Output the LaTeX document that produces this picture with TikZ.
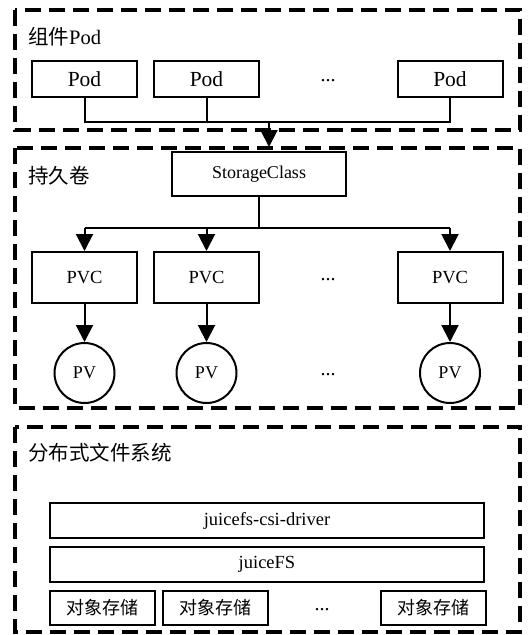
\documentclass[tikz,border=0pt]{standalone}
\usepackage{fontspec}
\setmainfont{Liberation Serif}
\newfontfamily\cjk{Noto Sans CJK SC}
\usetikzlibrary{arrows.meta}

\begin{document}
\begin{tikzpicture}[x=1pt,y=-1pt,
  group/.style={draw, line width=3.2pt, dash pattern=on 16pt off 8pt},
  box/.style={draw, line width=2pt, inner sep=0pt, minimum width=105pt},
  pv/.style={draw, circle, line width=2pt, inner sep=0pt, minimum size=60pt, font=\fontsize{18}{18}\selectfont},
  wire/.style={line width=2pt},
  arr/.style={line width=2pt, -{Triangle[length=17pt,width=17pt]}},
  grouplabel/.style={anchor=west, inner sep=0pt, font=\fontsize{20.5}{20.5}\selectfont},
  dots/.style={inner sep=0pt, font=\fontsize{20}{20}\selectfont}
]
\useasboundingbox (0,0) rectangle (532,635);

% three layers
\draw[group] (15,10) rectangle (520,130);
\draw[group] (15,148) rectangle (520,408);
\draw[group] (15,427) rectangle (520,632);

\node[grouplabel] (l1) at (28,37) {{\cjk 组件}Pod};
\node[grouplabel] (l2) at (28,176) {\cjk 持久卷};
\node[grouplabel] (l3) at (28,453) {\cjk 分布式文件系统};

% pods
\begin{scope}[every node/.append style={box, minimum height=36pt, font=\fontsize{21.5}{21.5}\selectfont}]
  \node (p1) at (84.5,79) {Pod};
  \node (p2) at (206.5,79) {Pod};
  \node (p3) at (450,79) {Pod};
\end{scope}
\node[dots] (pd) at (328,81) {...};

\coordinate (bus) at (269,122);
\coordinate (tip) at (269,147);
\draw[wire] (p1.south) -- (p1.south |- bus) -| (p3.south);
\draw[wire] (p2.south) -- (p2.south |- bus);
\draw[arr] (bus) -- (tip);

% storage class and claims
\node[box, minimum width=174pt, minimum height=44pt, font=\fontsize{18}{18}\selectfont] (sc) at (259,174) {StorageClass};

\begin{scope}[every node/.append style={box, minimum height=51pt, font=\fontsize{18.5}{18.5}\selectfont}]
  \node (c1) at (84.5,277.5) {PVC};
  \node (c2) at (206.5,277.5) {PVC};
  \node (c3) at (450,277.5) {PVC};
\end{scope}
\node[dots] (cd) at (328,280) {...};

\coordinate (bus2) at (259,228);
\draw[wire] (sc.south) -- (bus2);
\draw[wire] (c1.north |- bus2) -- (c3.north |- bus2);
\foreach \c in {c1,c2,c3} \draw[arr] (\c.north |- bus2) -- (\c.north);

\coordinate (pvrow) at (0,373);
\node[pv] (v1) at (c1 |- pvrow) {PV};
\node[pv] (v2) at (c2 |- pvrow) {PV};
\node[pv] (v3) at (c3 |- pvrow) {PV};
\node[dots] (vd) at (328,375) {...};

\draw[arr] (c1.south) -- (v1.north);
\draw[arr] (c2.south) -- (v2.north);
\draw[arr] (c3.south) -- (v3.north);

% file system stack
\node[box, minimum width=434pt, minimum height=35pt, font=\fontsize{18.5}{18.5}\selectfont] (csi) at (267,520.5) {juicefs-csi-driver};
\node[box, minimum width=434pt, minimum height=35pt, font=\fontsize{18.5}{18.5}\selectfont] (jfs) at (267,564.5) {juiceFS};

\begin{scope}[every node/.append style={box, minimum height=34pt, font=\cjk\fontsize{18}{18}\selectfont}]
  \node (o1) at (102.5,608) {对象存储};
  \node (o2) at (215.5,608) {对象存储};
  \node (o3) at (433,608) {对象存储};
\end{scope}
\node[dots] (od) at (322,610) {...};
\end{tikzpicture}
\end{document}
